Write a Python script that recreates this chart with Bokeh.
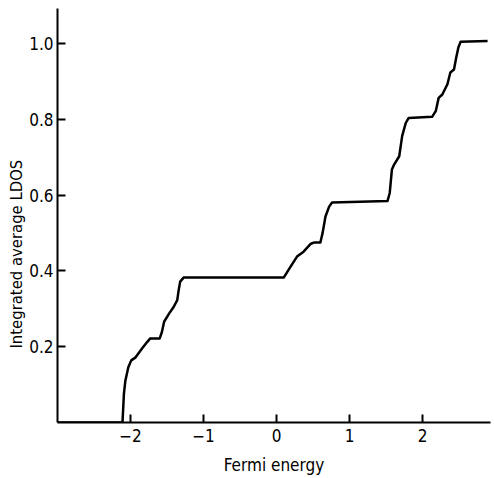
from bokeh.plotting import figure
from bokeh.models import FixedTicker, Range1d, Title
from bokeh.embed import file_html
from bokeh.resources import INLINE

# Data
fermi_energy = [-3.0, -2.11, -2.09, -2.07, -2.03, -1.99, -1.93, -1.84, -1.77, -1.73,
                -1.60, -1.57, -1.54, -1.47, -1.41, -1.36, -1.34, -1.32, -1.27, 0.10,
                0.19, 0.28, 0.37, 0.47, 0.51, 0.60, 0.63, 0.67, 0.72, 0.76,
                1.52, 1.55, 1.58, 1.61, 1.68, 1.72, 1.77, 1.81, 2.13, 2.18,
                2.22, 2.27, 2.34, 2.38, 2.43, 2.46, 2.49, 2.52, 2.89]
integrated_ldos = [0.0, 0.0, 0.077, 0.111, 0.146, 0.164, 0.172, 0.196, 0.213, 0.222,
                   0.222, 0.239, 0.266, 0.288, 0.305, 0.323, 0.350, 0.372, 0.383, 0.383,
                   0.411, 0.438, 0.451, 0.472, 0.475, 0.475, 0.500, 0.544, 0.570, 0.581,
                   0.585, 0.606, 0.668, 0.681, 0.703, 0.756, 0.791, 0.804, 0.807, 0.822,
                   0.857, 0.866, 0.893, 0.924, 0.932, 0.963, 0.990, 1.005, 1.007]
x_ticks = [-2, -1, 0, 1, 2]
y_ticks = [0.2, 0.4, 0.6, 0.8, 1.0]
x_title = "Fermi energy"
y_title = "Integrated average LDOS"

FONT = "DejaVu Sans Condensed"

p = figure(width=494, height=478, output_backend="svg", toolbar_location=None,
           x_range=Range1d(-3.0, 2.93), y_range=Range1d(0, 1.093),
           min_border_left=57, min_border_right=4, min_border_top=8, min_border_bottom=56)

p.line(fermi_energy, integrated_ldos, line_color="black", line_width=2.5, line_join="round")

p.xgrid.visible = False
p.ygrid.visible = False
p.outline_line_color = None
p.background_fill_color = "white"
p.border_fill_color = "white"

p.xaxis.ticker = FixedTicker(ticks=x_ticks)
p.yaxis.ticker = FixedTicker(ticks=y_ticks)
p.yaxis.major_label_overrides = {0.2: "0.2", 0.4: "0.4", 0.6: "0.6", 0.8: "0.8", 1.0: "1.0"}

for ax in (p.xaxis[0], p.yaxis[0]):
    ax.axis_line_color = "black"
    ax.axis_line_width = 2
    ax.major_tick_line_color = "black"
    ax.major_tick_line_width = 2
    ax.major_tick_in = 8
    ax.major_tick_out = 0
    ax.minor_tick_line_color = None
    ax.major_label_text_font = FONT
    ax.major_label_text_font_size = "17px"
    ax.major_label_text_color = "black"
    ax.axis_label_text_font = FONT
    ax.axis_label_text_font_size = "17px"
    ax.axis_label_text_font_style = "normal"
    ax.axis_label_text_color = "black"

p.xaxis.axis_label = x_title
p.xaxis.major_label_standoff = 6
p.yaxis.major_label_standoff = 4
p.xaxis.axis_label_standoff = 10

# y-axis title sits lower than the frame centre in the reference
p.add_layout(Title(text=y_title, align="left", offset=74, vertical_align="middle",
                   standoff=0, text_font=FONT, text_font_size="16.5px",
                   text_font_style="normal", text_color="black"), "left")

open("out.html", "w").write(file_html(p, INLINE))
